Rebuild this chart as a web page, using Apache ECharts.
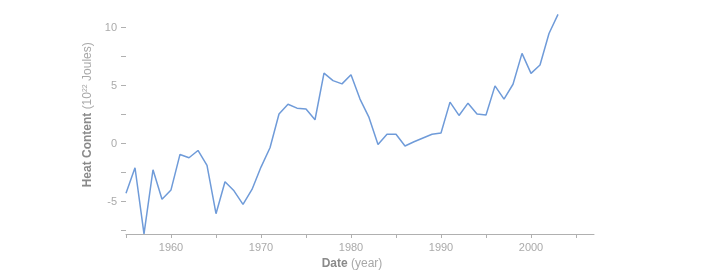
<!DOCTYPE html>
<html>
<head>
<meta charset="utf-8">
<script src="https://cdn.jsdelivr.net/npm/echarts@6/dist/echarts.min.js"></script>
<style>html,body{margin:0;padding:0;background:#fff}#c{width:720px;height:270px}</style>
</head>
<body>
<div id="c"></div>
<script>
var years = [1955,1956,1957,1958,1959,1960,1961,1962,1963,1964,1965,1966,1967,1968,1969,1970,1971,1972,1973,1974,1975,1976,1977,1978,1979,1980,1981,1982,1983,1984,1985,1986,1987,1988,1989,1990,1991,1992,1993,1994,1995,1996,1997,1998,1999,2000,2001,2002,2003];
var heat = [-4.28,-2.09,-7.79,-2.26,-4.80,-4.00,-0.94,-1.23,-0.60,-1.88,-6.05,-3.29,-4.08,-5.25,-3.96,-2.03,-0.36,2.54,3.39,3.05,2.97,2.05,6.07,5.42,5.14,5.93,3.83,2.25,-0.09,0.80,0.80,-0.21,0.15,0.48,0.80,0.91,3.57,2.42,3.48,2.54,2.46,4.97,3.83,5.11,7.77,6.05,6.77,9.48,11.13];
var xTickValues = [1955,1960,1965,1970,1975,1980,1985,1990,1995,2000,2005];
var xLabelValues = [1960,1970,1980,1990,2000];
var yTickValues = [-7.5,-5,-2.5,0,2.5,5,7.5,10];
var yLabelValues = [-5,0,5,10];

var FONT = 'Liberation Sans';
var chart = echarts.init(document.getElementById('c'), null, {renderer:'canvas'});
chart.setOption({
  animation: false,
  grid: {left:126, right:126, top:13.6, bottom:36, containLabel:false, outerBoundsMode:'none'},
  xAxis: {
    type:'value', min:1955, max:2007,
    name:'{b|Date} {n|(year)}',
    nameLocation:'middle', nameGap:23,
    nameTextStyle:{padding:[0,16,0,0], rich:{
      b:{fontFamily:FONT,fontSize:12,fontWeight:'bold',color:'#8a8a8a'},
      n:{fontFamily:FONT,fontSize:12,color:'#a8a8a8'}
    }},
    axisLine:{show:true, onZero:false, lineStyle:{color:'#b0b0b0', width:1}},
    axisTick:{show:true, length:4, customValues:xTickValues, lineStyle:{color:'#b0b0b0'}},
    axisLabel:{customValues:xLabelValues, margin:8, fontFamily:FONT, fontSize:11, color:'#aaaaaa',
      formatter:function(v){return String(v);}},
    splitLine:{show:false}
  },
  yAxis: {
    type:'value', min:-7.8, max:11.2,
    name:'{b|Heat Content} {n|(10}{s|22}{n| Joules)}',
    nameLocation:'middle', nameGap:31,
    nameTextStyle:{padding:[0,0,0,18], rich:{
      b:{fontFamily:FONT,fontSize:12,fontWeight:'bold',color:'#8a8a8a'},
      n:{fontFamily:FONT,fontSize:12,color:'#a8a8a8'},
      s:{fontFamily:FONT,fontSize:7,color:'#a8a8a8',verticalAlign:'top',padding:[0,0,6,0]}
    }},
    axisLine:{show:false, onZero:false},
    axisTick:{show:true, length:5, customValues:yTickValues, lineStyle:{color:'#b0b0b0'}},
    axisLabel:{customValues:yLabelValues, margin:9, fontFamily:FONT, fontSize:11, color:'#aaaaaa',
      formatter:function(v){return String(v);}},
    splitLine:{show:false}
  },
  series: [{
    type:'line',
    data: years.map(function(y,i){return [y, heat[i]];}),
    showSymbol:false,
    symbol:'none',
    lineStyle:{color:'#6f9bd9', width:1.5},
    clip:false
  }]
});
</script>
</body>
</html>
